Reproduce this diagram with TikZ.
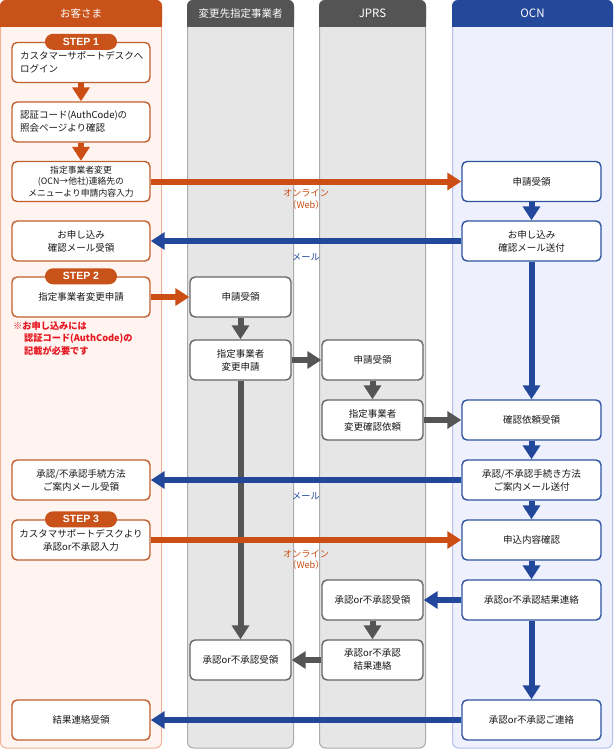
\documentclass[tikz,border=0pt]{standalone}
\usepackage{fontspec}
\newfontfamily\jp{Noto Sans CJK JP}
\newfontfamily\stepfont{Liberation Sans}
\usetikzlibrary{arrows.meta}
\definecolor{hdrO}{RGB}{200,82,26}
\definecolor{hdrG}{RGB}{84,84,84}
\definecolor{hdrB}{RGB}{36,72,154}
\definecolor{bodyO}{RGB}{255,244,239}
\definecolor{edgeO}{RGB}{242,178,152}
\definecolor{bodyG}{RGB}{230,230,230}
\definecolor{edgeG}{RGB}{170,170,170}
\definecolor{bodyB}{RGB}{238,240,253}
\definecolor{edgeB}{RGB}{182,190,236}
\definecolor{boxO}{RGB}{192,96,48}
\definecolor{boxG}{RGB}{102,102,102}
\definecolor{boxB}{RGB}{46,84,158}
\definecolor{arrowO}{RGB}{204,78,20}
\definecolor{arrowG}{RGB}{85,85,85}
\definecolor{arrowB}{RGB}{34,71,155}
\definecolor{noteR}{RGB}{229,20,30}
\definecolor{txt}{RGB}{25,25,25}
\begin{document}
\begin{tikzpicture}[x=1pt,y=-1pt,
  box/.style={draw, line width=1.4pt, rounded corners=5pt, fill=white,
    minimum height=40pt, inner sep=0pt, text=txt,
    font=\jp\fontsize{9.5}{13}\selectfont, align=center},
  obox/.style={box, draw=boxO, minimum width=138pt},
  gbox/.style={box, draw=boxG, minimum width=101pt},
  bbox/.style={box, draw=boxB, minimum width=139pt},
  lbox/.style={obox, align=left, text width=122pt, inner xsep=8pt},
  steptab/.style={fill=hdrO, rounded corners=8pt, minimum width=72pt,
    minimum height=16pt, inner sep=0pt, text=white,
    font=\stepfont\bfseries\fontsize{10.5}{12}\selectfont},
  hdrtext/.style={text=white, font=\jp\fontsize{10.5}{12}\selectfont},
  arr/.style={line width=6pt, -{Triangle[length=14pt,width=17pt]}},
  arrO/.style={arr, draw=arrowO},
  arrG/.style={arr, draw=arrowG},
  arrB/.style={arr, draw=arrowB},
  lbl/.style={font=\jp\fontsize{9.2}{11.5}\selectfont, align=center},
]
\useasboundingbox (0,0) rectangle (614,749);

% ---- columns ----
\filldraw[fill=bodyO, draw=edgeO, line width=1pt, rounded corners=6pt] (0.5,0) rectangle (161.5,748);
\fill[hdrO, rounded corners=6pt] (0,0) rectangle (162,27);
\fill[hdrO] (0,15) rectangle (162,27);
\node[hdrtext] (hC) at (81,13.5) {お客さま};

\filldraw[fill=bodyG, draw=edgeG, line width=1pt, rounded corners=6pt] (187.5,0) rectangle (293.5,748);
\fill[hdrG, rounded corners=6pt] (187,0) rectangle (294,27);
\fill[hdrG] (187,15) rectangle (294,27);
\node[hdrtext] (hR) at (240.5,13.5) {変更先指定事業者};

\filldraw[fill=bodyG, draw=edgeG, line width=1pt, rounded corners=6pt] (319.5,0) rectangle (425.5,748);
\fill[hdrG, rounded corners=6pt] (319,0) rectangle (426,27);
\fill[hdrG] (319,15) rectangle (426,27);
\node[hdrtext, font=\jp\fontsize{11.5}{12}\selectfont] (hJ) at (372.5,13.5) {JPRS};

\filldraw[fill=bodyB, draw=edgeB, line width=1pt, rounded corners=6pt] (452.5,0) rectangle (612.5,748);
\fill[hdrB, rounded corners=6pt] (452,0) rectangle (613,27);
\fill[hdrB] (452,15) rectangle (613,27);
\node[hdrtext, font=\jp\fontsize{11.5}{12}\selectfont] (hO) at (532.5,13.5) {OCN};

% ---- customer boxes ----
\node[lbox] (L1) at (81,62.5) {カスタマーサポートデスクへ\\ログイン};
\node[lbox] (L2) at (81,122) {認証コード(AuthCode)の\\照会ページより確認};
\node[obox, font=\jp\fontsize{8.8}{11.8}\selectfont] (L3) at (81,181.5) {指定事業者変更\\(OCN→他社)連絡先の\\メニューより申請内容入力};
\node[obox] (L4) at (81,241) {お申し込み\\確認メール受領};
\node[obox] (L5) at (81,297) {指定事業者変更申請};
\node[obox] (L6) at (81,480) {承認/不承認手続方法\\ご案内メール受領};
\node[obox] (L7) at (81,540) {カスタマサポートデスクより\\承認or不承認入力};
\node[obox] (L8) at (81,720) {結果連絡受領};

\node[steptab] (S1) at (L1.north) {STEP 1};
\node[steptab] (S2) at (L5.north) {STEP 2};
\node[steptab] (S3) at (L7.north) {STEP 3};

\node[anchor=north west, inner sep=0pt, text=noteR, align=left,
  font=\jp\bfseries\fontsize{9.2}{12.8}\selectfont] (note) at (13,321)
  {※お申し込みには\\\hspace*{11pt}認証コード(AuthCode)の\\\hspace*{11pt}記載が必要です};

% ---- registrar boxes ----
\node[gbox] (G1) at (240.5,297) {申請受領};
\node[gbox] (G2) at (240.5,360) {指定事業者\\変更申請};
\node[gbox] (G3) at (240.5,660) {承認or不承認受領};

% ---- JPRS boxes ----
\node[gbox] (J1) at (372.5,360) {申請受領};
\node[gbox] (J2) at (372.5,420) {指定事業者\\変更確認依頼};
\node[gbox] (J3) at (372.5,600) {承認or不承認受領};
\node[gbox] (J4) at (372.5,660) {承認or不承認\\結果連絡};

% ---- OCN boxes ----
\node[bbox] (O1) at (531.5,181.5) {申請受領};
\node[bbox] (O2) at (531.5,241) {お申し込み\\確認メール送付};
\node[bbox] (O3) at (531.5,420) {確認依頼受領};
\node[bbox] (O4) at (531.5,480) {承認/不承認手続き方法\\ご案内メール送付};
\node[bbox] (O5) at (531.5,540) {申込内容確認};
\node[bbox] (O6) at (531.5,600) {承認or不承認結果連絡};
\node[bbox] (O7) at (531.5,720) {承認or不承認ご連絡};

% ---- arrows ----
\draw[arrO] (L1.south) -- (L2.north);
\draw[arrO] (L2.south) -- (L3.north);
\draw[arrO] (L3.east) -- (O1.west);
\draw[arrB] (O2.west) -- (L4.east);
\draw[arrO] (L5.east) -- (G1.west);
\draw[arrG] (G1.south) -- (G2.north);
\draw[arrG] (G2.east) -- (J1.west);
\draw[arrG] (J1.south) -- (J2.north);
\draw[arrG] (J2.east) -- (O3.west);
\draw[arrG] (G2.south) -- (G3.north);
\draw[arrB] (O1.south) -- (O2.north);
\draw[arrB] (O2.south) -- (O3.north);
\draw[arrB] (O3.south) -- (O4.north);
\draw[arrB] (O4.south) -- (O5.north);
\draw[arrB] (O5.south) -- (O6.north);
\draw[arrB] (O6.south) -- (O7.north);
\draw[arrB] (O4.west) -- (L6.east);
\draw[arrO] (L7.east) -- (O5.west);
\draw[arrB] (O6.west) -- (J3.east);
\draw[arrG] (J3.south) -- (J4.north);
\draw[arrG] (J4.west) -- (G3.east);
\draw[arrB] (O7.west) -- (L8.east);

% ---- arrow labels ----
\node[lbl, text=arrowO] (w1) at (306,199.5) {オンライン\\（Web）};
\node[lbl, text=arrowB] (m1) at (306,257) {メール};
\node[lbl, text=arrowB] (m2) at (306,496) {メール};
\node[lbl, text=arrowO] (w2) at (306,560) {オンライン\\（Web）};
\end{tikzpicture}
\end{document}
